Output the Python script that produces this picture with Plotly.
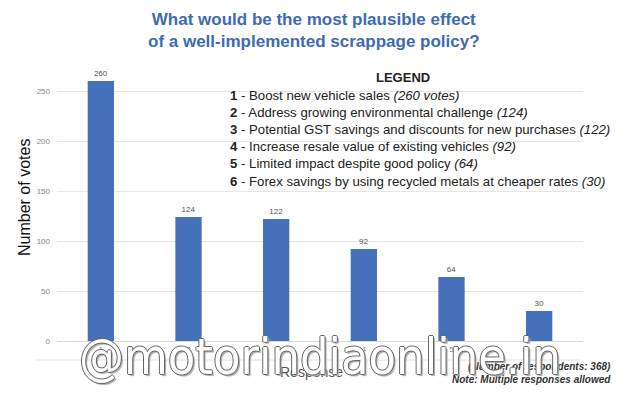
import plotly.graph_objects as go

categories = ["1", "2", "3", "4", "5", "6"]
votes = [260, 124, 122, 92, 64, 30]
legend_labels = [
    "Boost new vehicle sales",
    "Address growing environmental challenge",
    "Potential GST savings and discounts for new purchases",
    "Increase resale value of existing vehicles",
    "Limited impact despite good policy",
    "Forex savings by using recycled metals at cheaper rates",
]
legend_counts = ["260 votes", "124", "122", "92", "64", "30"]
y_ticks = [0, 50, 100, 150, 200, 250]

# page body has an 8px default margin; lay out in page pixels, offset by it
OFF = 8
PW, PH = 630, 395
W, H = PW - OFF, PH - OFF
L, R, T, B = 57 - OFF, 55 - OFF, 61 - OFF, 54

fig = go.Figure()
fig.add_trace(go.Bar(
    x=categories, y=votes, width=0.30,
    marker=dict(color="#4570BA", line=dict(width=0)),
    text=[str(v) for v in votes], textposition="outside",
    textfont=dict(size=8, color="#555555", family="Liberation Sans"),
    cliponaxis=False, showlegend=False,
))

fig.update_layout(
    width=W, height=H,
    margin=dict(l=L, r=R, t=T, b=B, pad=0, autoexpand=False),
    paper_bgcolor="white", plot_bgcolor="white",
    font=dict(family="Liberation Sans, Arial, sans-serif"),
    xaxis=dict(type="category", range=[-0.5, 5.5], showgrid=False, zeroline=False,
               showline=False, ticks="", tickfont=dict(size=8, color="#888888"),
               ticklabelstandoff=2),
    yaxis=dict(range=[0, 280], tickvals=y_ticks, showgrid=True, gridcolor="#E6E6E6",
               gridwidth=1, zeroline=True, zerolinecolor="#D8D8D8", zerolinewidth=1,
               showline=False, ticks="", tickfont=dict(size=8, color="#888888"),
               ticklabelstandoff=6),
)

def px_x(x):
    return (x - OFF - L) / (W - L - R)

def px_y(y):
    return (H - B - (y - OFF)) / (H - T - B)

annotations = []
annotations.append(dict(
    text="What would be the most plausible effect<br>of a well-implemented scrappage policy?",
    x=px_x(314), y=px_y(8), xref="paper", yref="paper", xanchor="center", yanchor="top",
    showarrow=False, align="center",
    font=dict(size=17, color="#3E6BB4", family="Liberation Sans", weight="bold"),
))
annotations.append(dict(
    text="Number of votes", textangle=-90,
    x=px_x(24), y=px_y(198), xref="paper", yref="paper", xanchor="center", yanchor="middle",
    showarrow=False, font=dict(size=16, color="#111111"),
))
annotations.append(dict(
    text="Response",
    x=px_x(311), y=px_y(372), xref="paper", yref="paper", xanchor="center", yanchor="middle",
    showarrow=False, font=dict(size=14, color="#555555"),
))
annotations.append(dict(
    text="<b>LEGEND</b>",
    x=px_x(403), y=px_y(77), xref="paper", yref="paper", xanchor="center", yanchor="middle",
    showarrow=False, font=dict(size=13, color="#222222"),
))
for i, (lab, cnt) in enumerate(zip(legend_labels, legend_counts)):
    annotations.append(dict(
        text=f"<b>{i+1}</b> - {lab} <i>({cnt})</i>",
        x=px_x(228), y=px_y(95 + i * 17.2), xref="paper", yref="paper",
        xanchor="left", yanchor="middle", showarrow=False,
        font=dict(size=13.2, color="#222222"),
    ))
annotations.append(dict(
    text="<i>(Number of respondents: 368)</i><br><i>Note: Multiple responses allowed</i>",
    x=px_x(613), y=px_y(373), xref="paper", yref="paper", xanchor="right", yanchor="middle",
    showarrow=False, align="right", font=dict(size=10, color="#333333", weight="bold"),
))
annotations.append(dict(
    text="@motorindiaonline.in",
    x=px_x(320), y=px_y(357), xref="paper", yref="paper", xanchor="center", yanchor="middle",
    showarrow=False,
    font=dict(size=50, color="white", family="DejaVu Sans Condensed, Liberation Sans Narrow, DejaVu Sans",
              shadow="1px 0 0 #666, -1px 0 0 #666, 0 1px 0 #666, 0 -1px 0 #666, 2px 2px 1px #aaa"),
))
fig.update_layout(annotations=annotations)

fig.add_shape(type="line", xref="paper", yref="paper",
              x0=px_x(35), x1=px_x(580), y0=px_y(360), y1=px_y(360),
              line=dict(color="#E0E0E0", width=1), layer="below")

fig.write_html("out.html")
